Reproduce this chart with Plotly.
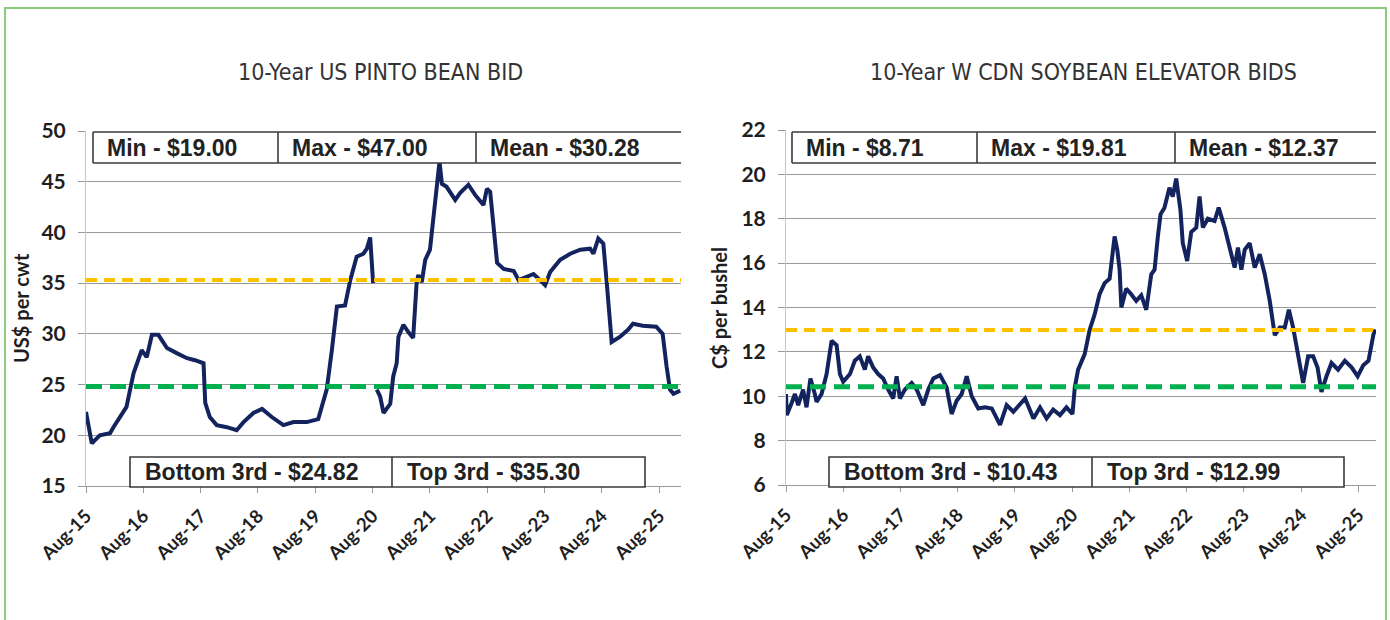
import plotly.graph_objects as go

# ---------------- data ----------------
pinto_dates = [
    "2015-08-01", "2015-09-07", "2015-10-28", "2016-01-01", "2016-01-23", "2016-04-15",
    "2016-05-30", "2016-07-21", "2016-08-22", "2016-09-24", "2016-11-04", "2016-12-29",
    "2017-03-01", "2017-05-06", "2017-06-26", "2017-08-19", "2017-08-30", "2017-09-28",
    "2017-11-11", "2018-01-15", "2018-03-18", "2018-05-01", "2018-07-03", "2018-08-27",
    "2018-10-28", "2019-01-10", "2019-03-16", "2019-06-08", "2019-08-20", "2019-10-13",
    "2019-11-15", "2019-12-17", "2020-02-07", "2020-03-11", "2020-04-21", "2020-06-03",
    "2020-06-25", "2020-07-16", "2020-08-04", "2020-08-15", "2020-08-27", "2020-09-18",
    "2020-10-09", "2020-11-21", "2020-12-10", "2021-01-01", "2021-01-12", "2021-02-13",
    "2021-03-15", "2021-04-16", "2021-05-08", "2021-05-19", "2021-06-10", "2021-07-02",
    "2021-08-01", "2021-08-23", "2021-09-14", "2021-10-01", "2021-10-16", "2021-11-15",
    "2022-01-09", "2022-02-10", "2022-04-03", "2022-05-16", "2022-07-08", "2022-07-30",
    "2022-08-20", "2022-09-11", "2022-10-03", "2022-11-14", "2023-01-17", "2023-02-17",
    "2023-04-10", "2023-05-23", "2023-07-04", "2023-08-05", "2023-09-06", "2023-11-09",
    "2024-01-12", "2024-03-16", "2024-05-18", "2024-06-08", "2024-07-09", "2024-08-10",
    "2024-09-01", "2024-09-22", "2024-10-02", "2024-11-23", "2025-01-14", "2025-02-15",
    "2025-04-19", "2025-07-13", "2025-08-23", "2025-09-17", "2025-10-09", "2025-10-31",
    "2025-12-13",
]
pinto_values = [
    22.3, 19.2, 20.0, 20.2, 20.8, 22.8,
    26.1, 28.4, 27.7, 29.9, 29.9, 28.6,
    28.1, 27.6, 27.4, 27.1, 23.2, 21.8,
    21.0, 20.8, 20.5, 21.3, 22.2, 22.6,
    21.8, 21.0, 21.3, 21.3, 21.6, 24.5,
    28.4, 32.7, 32.8, 35.3, 37.6, 37.9,
    38.4, 39.5, 35.0, None, 24.5, 23.8,
    22.2, 23.1, 25.8, 27.1, 29.7, 30.9,
    30.2, 29.6, 35.0, 35.8, 35.1, 37.3,
    38.3, 41.5, 44.8, 47.0, 44.8, 44.5,
    43.2, 43.9, 44.7, 43.7, 42.7, 44.3,
    44.0, 40.6, 37.0, 36.4, 36.2, 35.3,
    35.6, 35.9, 35.3, 34.8, 36.1, 37.3,
    37.9, 38.3, 38.4, 37.9, 39.4, 38.9,
    35.0, 30.7, 29.2, 29.7, 30.4, 31.0,
    30.8, 30.7, 30.0, 26.8, 24.5, 24.1,
    24.4,
]

soy_dates = [
    "2015-08-01", "2015-08-06", "2015-09-06", "2015-09-27", "2015-10-18", "2015-11-18",
    "2015-12-10", "2016-01-04", "2016-02-01", "2016-02-12", "2016-03-15", "2016-04-16",
    "2016-05-18", "2016-06-19", "2016-07-10", "2016-07-31", "2016-09-12", "2016-10-13",
    "2016-11-14", "2016-12-16", "2017-01-06", "2017-02-07", "2017-03-11", "2017-04-12",
    "2017-05-14", "2017-06-15", "2017-07-07", "2017-07-28", "2017-08-29", "2017-10-11",
    "2017-11-12", "2017-12-24", "2018-01-25", "2018-02-26", "2018-04-10", "2018-05-22",
    "2018-06-23", "2018-07-25", "2018-08-26", "2018-09-27", "2018-10-29", "2018-12-10",
    "2019-01-22", "2019-03-06", "2019-04-28", "2019-06-09", "2019-07-22", "2019-10-05",
    "2019-11-27", "2020-01-08", "2020-02-19", "2020-04-01", "2020-05-14", "2020-06-25",
    "2020-08-02", "2020-08-17", "2020-09-07", "2020-10-19", "2020-11-20", "2020-12-22",
    "2021-01-22", "2021-02-23", "2021-03-27", "2021-04-28", "2021-05-15", "2021-05-30",
    "2021-06-10", "2021-07-11", "2021-08-12", "2021-09-13", "2021-10-15", "2021-11-16",
    "2021-12-18", "2022-01-08", "2022-01-29", "2022-02-15", "2022-03-12", "2022-04-13",
    "2022-05-04", "2022-05-26", "2022-06-22", "2022-07-07", "2022-08-04", "2022-08-30",
    "2022-10-01", "2022-10-22", "2022-11-12", "2022-12-14", "2023-01-26", "2023-02-21",
    "2023-03-31", "2023-05-02", "2023-06-03", "2023-06-24", "2023-07-16", "2023-08-06",
    "2023-09-07", "2023-10-09", "2023-11-10", "2023-12-12", "2024-01-13", "2024-02-14",
    "2024-03-17", "2024-04-18", "2024-05-14", "2024-06-10", "2024-07-12", "2024-08-13",
    "2024-09-14", "2024-10-16", "2024-11-13", "2024-12-08", "2025-01-09", "2025-02-10",
    "2025-03-24", "2025-05-06", "2025-06-18", "2025-07-27", "2025-09-01", "2025-10-04",
    "2025-11-05", "2025-11-19",
]
soy_values = [
    10.1, 9.15, 9.7, 10.1, 9.6, 10.3,
    9.5, 10.8, 10.1, 9.75, 10.1, 11.0,
    12.5, 12.3, 11.0, 10.65, 11.0, 11.6,
    11.8, 11.2, 11.8, 11.3, 11.0, 10.8,
    10.3, 9.9, 10.9, 9.9, 10.3, 10.6,
    10.3, 9.6, 10.3, 10.8, 10.95, 10.4,
    9.2, 9.8, 10.1, 10.9, 10.0, 9.45,
    9.5, 9.45, 8.71, 9.6, 9.3, 9.9,
    9.0, 9.5, 9.0, 9.4, 9.15, 9.5,
    9.2, 10.4, 11.2, 11.9, 13.0, 13.7,
    14.6, 15.1, 15.3, 17.2, 16.6, 15.7,
    14.0, 14.85, 14.6, 14.3, 14.55, 13.9,
    15.5, 15.7, 17.2, 18.2, 18.5, 19.4,
    19.0, 19.81, 18.4, 16.9, 16.1, 17.4,
    17.6, 19.0, 17.6, 18.0, 17.9, 18.5,
    17.6, 16.7, 15.8, 16.7, 15.7, 16.6,
    16.9, 15.8, 16.4, 15.5, 14.3, 12.75,
    13.1, 13.1, 13.9, 13.1, 11.9, 10.6,
    11.8, 11.8, 11.3, 10.2, 10.9, 11.5,
    11.2, 11.6, 11.3, 10.9, 11.4, 11.6,
    12.8, 13.0,
]

tick_dates = ["2015-08-01", "2016-08-01", "2017-08-01", "2018-08-01", "2019-08-01", "2020-08-01",
              "2021-08-01", "2022-08-01", "2023-08-01", "2024-08-01", "2025-08-01"]
tick_labels = ["Aug-15", "Aug-16", "Aug-17", "Aug-18", "Aug-19", "Aug-20",
               "Aug-21", "Aug-22", "Aug-23", "Aug-24", "Aug-25"]

pinto_title = "10-Year US PINTO BEAN BID"
soy_title = "10-Year W CDN SOYBEAN ELEVATOR BIDS"
pinto_ytitle = "US$ per cwt"
soy_ytitle = "C$ per bushel"

pinto_stats = {"min": 19.00, "max": 47.00, "mean": 30.28, "bottom": 24.82, "top": 35.30}
soy_stats = {"min": 8.71, "max": 19.81, "mean": 12.37, "bottom": 10.43, "top": 12.99}

pinto_xrange = ["2015-08-01", "2025-12-18"]
soy_xrange = ["2015-08-01", "2025-11-21"]
pinto_yrange = [15, 50]
soy_yrange = [6, 22]

# ---------------- style ----------------
W, H = 1390, 620
NAVY = "#13235E"
GOLD = "#FFC000"
GREEN = "#00B050"
GRID = "#9A9A9A"
FRAME = "#8CCB7C"
TXT = "#1E1E1E"


def px(x):
    return x / W


def py(y):
    return 1 - y / H


fig = go.Figure()

panels = [
    dict(dates=pinto_dates, vals=pinto_values, xr=pinto_xrange, yr=pinto_yrange, dt=5,
         stats=pinto_stats, title=pinto_title, ytitle=pinto_ytitle,
         xa="x", ya="y", x0=86, x1=681, top=131, bot=486, tcx=380, ytx=21,
         topbox=(93, 278, 476, 681), botbox=(130, 392, 645)),
    dict(dates=soy_dates, vals=soy_values, xr=soy_xrange, yr=soy_yrange, dt=2,
         stats=soy_stats, title=soy_title, ytitle=soy_ytitle,
         xa="x2", ya="y2", x0=786, x1=1376, top=130, bot=485, tcx=1083, ytx=719,
         topbox=(792, 977, 1175, 1376), botbox=(829, 1092, 1344)),
]

shapes = []
annotations = []
box_font = dict(family="Liberation Sans, Arial, sans-serif", size=23, color="#222222", weight="bold")
tick_font_y = dict(family="Lato, sans-serif", size=21, color=TXT, weight="bold")
tick_font_x = dict(family="Lato, sans-serif", size=18.5, color=TXT, weight="bold")

for i, p in enumerate(panels):
    fig.add_trace(go.Scatter(x=p["dates"], y=p["vals"], mode="lines", connectgaps=False,
                             line=dict(color=NAVY, width=4), xaxis=p["xa"], yaxis=p["ya"],
                             hoverinfo="skip", showlegend=False))
    fig.add_trace(go.Scatter(x=p["xr"], y=[p["stats"]["top"]] * 2, mode="lines",
                             line=dict(color=GOLD, width=4, dash="11px,7px"),
                             xaxis=p["xa"], yaxis=p["ya"], showlegend=False, hoverinfo="skip"))
    fig.add_trace(go.Scatter(x=p["xr"], y=[p["stats"]["bottom"]] * 2, mode="lines",
                             line=dict(color=GREEN, width=5, dash="16px,8px"),
                             xaxis=p["xa"], yaxis=p["ya"], showlegend=False, hoverinfo="skip"))

    suffix = "" if i == 0 else "2"
    fig.layout["xaxis" + suffix] = dict(
        domain=[px(p["x0"]), px(p["x1"])], range=p["xr"], type="date", automargin=False,
        anchor="y" + suffix, tickvals=tick_dates, ticktext=tick_labels, tickangle=-45,
        ticks="outside", ticklen=6, tickcolor=GRID, showline=True, linecolor=GRID,
        linewidth=1, showgrid=False, zeroline=False, tickfont=tick_font_x,
        ticklabelstandoff=5,
    )
    fig.layout["yaxis" + suffix] = dict(
        domain=[py(p["bot"]), py(p["top"])], range=p["yr"], dtick=p["dt"], automargin=False,
        anchor="x" + suffix, showgrid=True, gridcolor=GRID, gridwidth=1,
        showline=True, linecolor="#C4C4C4", linewidth=1, ticks="outside", ticklen=7,
        tickcolor=GRID, zeroline=False, tickfont=tick_font_y, ticklabelstandoff=8,
    )

    # titles
    annotations.append(dict(text=p["title"], x=px(p["tcx"]), y=py(72), xref="paper", yref="paper",
                            xanchor="center", yanchor="middle", showarrow=False,
                            font=dict(family="Liberation Sans Narrow, DejaVu Sans Condensed, sans-serif",
                                      size=23, color="#333333")))
    annotations.append(dict(text=p["ytitle"], x=px(p["ytx"]), y=py(308), xref="paper", yref="paper",
                            xanchor="center", yanchor="middle", showarrow=False, textangle=-90,
                            font=dict(family="Lato, sans-serif", size=20, color=TXT, weight="bold")))

    # top stats box
    a, b, c, d = p["topbox"]
    t0, t1 = 132, 163
    shapes.append(dict(type="rect", xref="paper", yref="paper", x0=px(a), x1=px(d),
                       y0=py(t1), y1=py(t0), fillcolor="white", line=dict(width=0), layer="above"))
    for (xa_, ya_, xb_, yb_) in [(a, t0, d, t0), (a, t1, d, t1), (a, t0, a, t1), (b, t0, b, t1), (c, t0, c, t1)]:
        shapes.append(dict(type="line", xref="paper", yref="paper", x0=px(xa_), x1=px(xb_),
                           y0=py(ya_), y1=py(yb_), line=dict(color="#3A3A3A", width=1.6), layer="above"))
    s = p["stats"]
    for cx, label in [(a, "Min - $%.2f" % s["min"]), (b, "Max - $%.2f" % s["max"]), (c, "Mean - $%.2f" % s["mean"])]:
        annotations.append(dict(text=label, x=px(cx + 12), y=py(148), xref="paper", yref="paper",
                                xanchor="left", yanchor="middle", showarrow=False, font=box_font))

    # bottom stats box
    a, b, c = p["botbox"]
    t0, t1 = 457, 487
    shapes.append(dict(type="rect", xref="paper", yref="paper", x0=px(a), x1=px(c),
                       y0=py(t1), y1=py(t0), fillcolor="white",
                       line=dict(color="#3A3A3A", width=1.6), layer="above"))
    shapes.append(dict(type="line", xref="paper", yref="paper", x0=px(b), x1=px(b),
                       y0=py(t1), y1=py(t0), line=dict(color="#3A3A3A", width=1.6), layer="above"))
    for cx, label in [(a, "Bottom 3rd - $%.2f" % s["bottom"]), (b, "Top 3rd - $%.2f" % s["top"])]:
        annotations.append(dict(text=label, x=px(cx + 13), y=py(472), xref="paper", yref="paper",
                                xanchor="left", yanchor="middle", showarrow=False, font=box_font))

# outer frame
shapes.append(dict(type="rect", xref="paper", yref="paper", x0=px(5), x1=px(1386),
                   y0=-0.05, y1=py(8), line=dict(color=FRAME, width=2), fillcolor="rgba(0,0,0,0)",
                   layer="below"))

fig.update_layout(
    width=W, height=H, margin=dict(l=0, r=0, t=0, b=0, autoexpand=False),
    paper_bgcolor="white", plot_bgcolor="white",
    shapes=shapes, annotations=annotations, showlegend=False,
)

fig.write_html("out.html", config={"displayModeBar": False},
               post_script="document.body.style.margin='0px';document.body.style.overflow='hidden';")
